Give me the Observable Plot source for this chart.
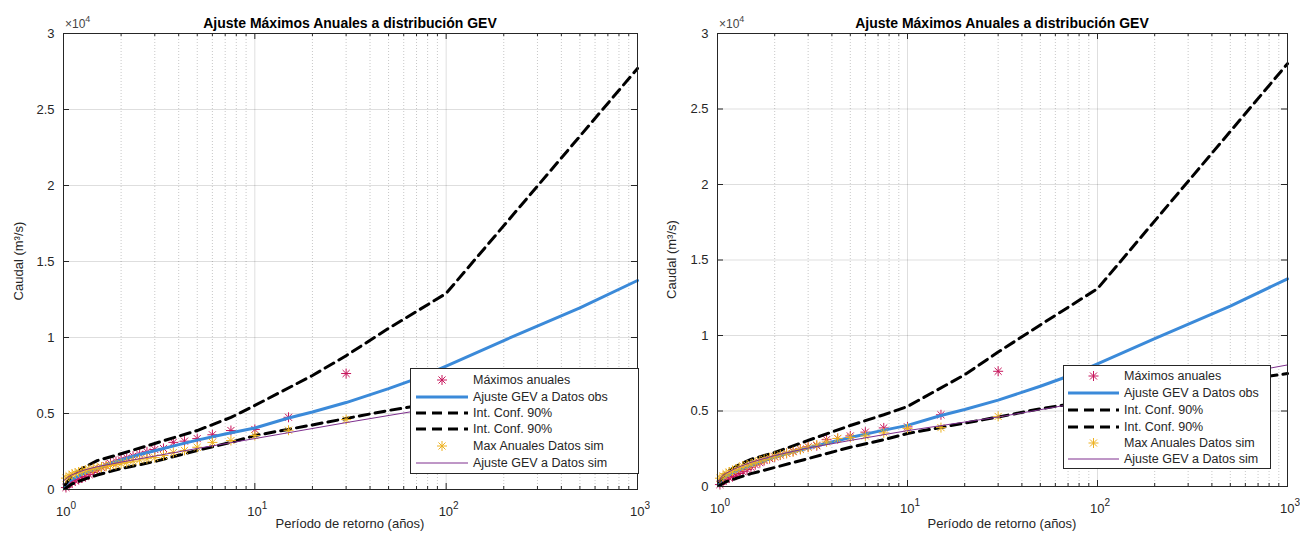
<!DOCTYPE html>
<html><head><meta charset="utf-8">
<script src="https://cdn.jsdelivr.net/npm/d3@7"></script>
<script src="https://cdn.jsdelivr.net/npm/@observablehq/plot@0.6"></script>
<style>
body{margin:0;background:#fff;font-family:"Liberation Sans",Arial,sans-serif;}
#wrap{position:relative;width:1300px;height:539px;overflow:hidden;background:#fff}
.panel{position:absolute;top:0;width:650px;height:539px}
.panel svg{position:absolute;left:0;top:0}
</style></head><body><div id="wrap"></div>
<script>
// ---------- data ----------
const titleText = "Ajuste Máximos Anuales a distribución GEV";
const xLabelText = "Período de retorno (años)";
const yLabelText = "Caudal (m³/s)";
const legendNames = ["Máximos anuales","Ajuste GEV a Datos obs","Int. Conf. 90%","Int. Conf. 90%","Max Anuales Datos sim","Ajuste GEV a Datos sim"];

const xMajorTicks = [1, 10, 100, 1000];
const xMajorExponents = ["0", "1", "2", "3"];
const xMinorTicks = [2,3,4,5,6,7,8,9,20,30,40,50,60,70,80,90,200,300,400,500,600,700,800,900];
const yTicks = [0, 5000, 10000, 15000, 20000, 25000, 30000];
const yTickLabels = ["0", "0.5", "1", "1.5", "2", "2.5", "3"];

// plotting positions (years)
const returnPeriods = [30, 15, 10, 7.5, 6, 5, 4.29, 3.75, 3.33, 3, 2.73, 2.5, 2.31, 2.14, 2, 1.88, 1.76, 1.67, 1.58, 1.5, 1.43, 1.36, 1.3, 1.25, 1.2, 1.15, 1.11, 1.07, 1.03];
const obsMax = [7630, 4750, 3950, 3880, 3600, 3350, 3180, 3100, 2700, 2630, 2480, 2330, 2200, 2080, 1960, 1850, 1720, 1580, 1440, 1280, 1120, 980, 860, 760, 660, 580, 480, 330, 130];
const simMaxLeft = [4600, 3900, 3550, 3220, 3100, 2780, 2570, 2430, 2240, 2100, 2030, 1950, 1860, 1780, 1700, 1640, 1580, 1530, 1480, 1420, 1370, 1320, 1270, 1220, 1150, 1080, 1000, 900, 750];
const simMaxRight = [4640, 3900, 3850, 3550, 3350, 3250, 3180, 2950, 2750, 2600, 2450, 2300, 2200, 2100, 2000, 1900, 1800, 1700, 1600, 1500, 1420, 1350, 1250, 1150, 1050, 950, 850, 700, 550];

const fitT = [1.01, 1.05, 1.1, 1.2, 1.3, 1.5, 1.75, 2, 2.5, 3, 4, 5, 7, 10, 15, 20, 30, 50, 70, 100, 200, 500, 1000];
const gevObs = [100, 450, 650, 900, 1100, 1400, 1700, 1950, 2300, 2550, 2950, 3250, 3650, 4050, 4700, 5100, 5720, 6640, 7300, 8120, 9800, 11950, 13750];

const ciT = [1.02, 1.1, 1.3, 1.5, 2, 3, 5, 7.5, 10, 20, 30, 50, 100, 1000];
const ciUpperLeft = [300, 900, 1500, 1900, 2350, 3030, 3880, 4740, 5530, 7500, 8800, 10600, 12900, 27700];
const ciLowerLeft = [50, 350, 700, 950, 1380, 1840, 2570, 3100, 3550, 4250, 4670, 5200, 5800, 7630];
const ciUpperRight = [300, 900, 1450, 1800, 2250, 3050, 4040, 4750, 5300, 7400, 8900, 10700, 13100, 28000];
const ciLowerRight = [50, 300, 600, 850, 1260, 1850, 2600, 3100, 3510, 4200, 4600, 5150, 5750, 7480];

const simFitT = [1.01, 1.05, 1.1, 1.2, 1.3, 1.5, 2, 3, 5, 10, 30, 100, 300, 1000];
const gevSimLeft = [600, 800, 950, 1150, 1300, 1500, 1800, 2200, 2700, 3350, 4400, 5500, 6550, 7700];
const gevSimRight = [300, 650, 850, 1100, 1300, 1600, 2050, 2550, 3050, 3700, 4600, 5750, 6850, 8050];

// ---------- styles ----------
const C_OBS = "#c8175d", C_FIT = "#3b8ad9", C_SIM = "#edb120", C_SIMFIT = "#7e2f8e", C_AX = "#262626";
const DASH = "10,6";
const FONT = "Liberation Sans, Arial, Helvetica, sans-serif";

const asterisk8 = {draw(ctx, size){
  const r = Math.sqrt(size/Math.PI), d = r*Math.SQRT1_2;
  ctx.moveTo(-r,0); ctx.lineTo(r,0);
  ctx.moveTo(0,-r); ctx.lineTo(0,r);
  ctx.moveTo(-d,-d); ctx.lineTo(d,d);
  ctx.moveTo(-d,d); ctx.lineTo(d,-d);
}};

const panels = [
  {left:0, mL:63, mR:13, mT:33, mB:50, sim:simMaxLeft, simFit:gevSimLeft, up:ciUpperLeft, lo:ciLowerLeft,
   yLabX:20, leg:{x:410, y:368, w:228, h:105, tx:63, l1:6, l2:58, rows:[12,29,45,61,78,95]}},
  {left:650, mL:67, mR:13, mT:33, mB:53, sim:simMaxRight, simFit:gevSimRight, up:ciUpperRight, lo:ciLowerRight,
   yLabX:23, leg:{x:413, y:365, w:207, h:103, tx:61, l1:5, l2:56, rows:[11,28,45,62,78,94]}}
];

const wrap = document.getElementById("wrap");
const zip = (xs, ys) => xs.map((x,i)=>({x, y:ys[i]}));

panels.forEach(p => {
  const W = 650, H = 539;
  const pw = W - p.mL - p.mR, ph = H - p.mT - p.mB;
  const div = document.createElement("div");
  div.className = "panel"; div.style.left = p.left + "px";
  wrap.appendChild(div);

  const obs = zip(returnPeriods, obsMax);
  const sim = zip(returnPeriods, p.sim);
  const chart = Plot.plot({
    width: W, height: H,
    marginLeft: p.mL, marginRight: p.mR, marginTop: p.mT, marginBottom: p.mB,
    style: {fontFamily: FONT, fontSize: "13px", color: C_AX, background: "transparent", overflow: "visible"},
    x: {type: "log", domain: [1, 1000], axis: null},
    y: {domain: [0, 30000], axis: null},
    marks: [
      Plot.ruleY(yTicks.slice(1,-1), {stroke: "#000", strokeOpacity: 0.13}),
      Plot.ruleX(xMinorTicks, {stroke: "#000", strokeOpacity: 0.22, strokeDasharray: "1,2"}),
      Plot.ruleX(xMajorTicks.slice(1,-1), {stroke: "#000", strokeOpacity: 0.13}),
      Plot.dot(obs, {x:"x", y:"y", symbol: asterisk8, r: 5, stroke: C_OBS, fill: "none", strokeWidth: 1}),
      Plot.line(zip(fitT, gevObs), {x:"x", y:"y", stroke: C_FIT, strokeWidth: 3}),
      Plot.line(zip(ciT, p.up), {x:"x", y:"y", stroke: "#000", strokeWidth: 3, strokeDasharray: DASH}),
      Plot.line(zip(ciT, p.lo), {x:"x", y:"y", stroke: "#000", strokeWidth: 3, strokeDasharray: DASH}),
      Plot.dot(sim, {x:"x", y:"y", symbol: asterisk8, r: 5, stroke: C_SIM, fill: "none", strokeWidth: 1}),
      Plot.line(zip(simFitT, p.simFit), {x:"x", y:"y", stroke: C_SIMFIT, strokeWidth: 1}),
      Plot.frame({stroke: C_AX, strokeWidth: 1}),
      Plot.tickX(xMajorTicks, {x: d=>d, insetTop: ph-6, stroke: C_AX}),
      Plot.tickX(xMajorTicks, {x: d=>d, insetBottom: ph-6, stroke: C_AX}),
      Plot.tickX(xMinorTicks, {x: d=>d, insetTop: ph-3, stroke: C_AX}),
      Plot.tickX(xMinorTicks, {x: d=>d, insetBottom: ph-3, stroke: C_AX}),
      Plot.tickY(yTicks, {y: d=>d, insetRight: pw-6, stroke: C_AX}),
      Plot.tickY(yTicks, {y: d=>d, insetLeft: pw-6, stroke: C_AX}),
      Plot.axisY({ticks: yTicks, tickSize: 0, tickPadding: 9, tickFormat: d => yTickLabels[yTicks.indexOf(d)], label: null, fill: C_AX})
    ]
  });
  div.appendChild(chart);
  const xs = chart.scale("x");

  // overlay: title, exponent, x tick labels, axis labels, legend
  const ov = d3.select(div).append("svg").attr("width", W).attr("height", H)
    .style("font-family", FONT).style("pointer-events", "none");
  const cx = p.mL + pw/2;
  ov.append("text").attr("x", cx).attr("y", 28).attr("text-anchor", "middle")
    .attr("font-size", 14).attr("font-weight", "bold").attr("fill", "#000").text(titleText);
  const ex = ov.append("text").attr("x", p.mL + 2).attr("y", 28).attr("font-size", 12).attr("fill", "#444");
  ex.append("tspan").text("×10");
  ex.append("tspan").attr("dy", -6).attr("font-size", 9).text("4");

  xMajorTicks.forEach((v, i) => {
    const t = ov.append("text").attr("x", xs.apply(v) + 3).attr("y", H - p.mB + 27)
      .attr("text-anchor", "middle").attr("font-size", 13).attr("fill", C_AX);
    t.append("tspan").text("10");
    t.append("tspan").attr("dy", -7).attr("font-size", 10).text(xMajorExponents[i]);
  });

  ov.append("text").attr("x", cx).attr("y", 528).attr("text-anchor", "middle")
    .attr("font-size", 13).attr("fill", C_AX).text(xLabelText);
  ov.append("text").attr("transform", `translate(${p.yLabX},${p.mT + ph/2}) rotate(-90)`)
    .attr("text-anchor", "middle").attr("dominant-baseline", "middle")
    .attr("font-size", 13).attr("fill", C_AX).text(yLabelText);

  const L = p.leg;
  const g = ov.append("g").attr("transform", `translate(${L.x},${L.y})`);
  g.append("rect").attr("x", 0.5).attr("y", 0.5).attr("width", L.w).attr("height", L.h)
    .attr("fill", "#fff").attr("stroke", C_AX).attr("stroke-width", 1);
  const symPath = d3.symbol(asterisk8, 25*Math.PI)();
  const mid = (L.l1 + L.l2)/2;
  const kinds = [
    {t:"sym", c:C_OBS}, {t:"line", c:C_FIT, w:3}, {t:"dash", c:"#000", w:3},
    {t:"dash", c:"#000", w:3}, {t:"sym", c:C_SIM}, {t:"line", c:C_SIMFIT, w:1}
  ];
  legendNames.forEach((name, i) => {
    const yy = L.rows[i], k = kinds[i];
    if (k.t === "sym") {
      g.append("path").attr("d", symPath).attr("transform", `translate(${mid},${yy})`)
        .attr("fill", "none").attr("stroke", k.c).attr("stroke-width", 1);
    } else {
      g.append("line").attr("x1", L.l1).attr("x2", L.l2).attr("y1", yy).attr("y2", yy)
        .attr("stroke", k.c).attr("stroke-width", k.w)
        .attr("stroke-dasharray", k.t === "dash" ? "10,6" : null);
    }
    g.append("text").attr("x", L.tx).attr("y", yy).attr("dominant-baseline", "central")
      .attr("font-size", 12.5).attr("fill", C_AX).text(name);
  });
});
</script></body></html>
